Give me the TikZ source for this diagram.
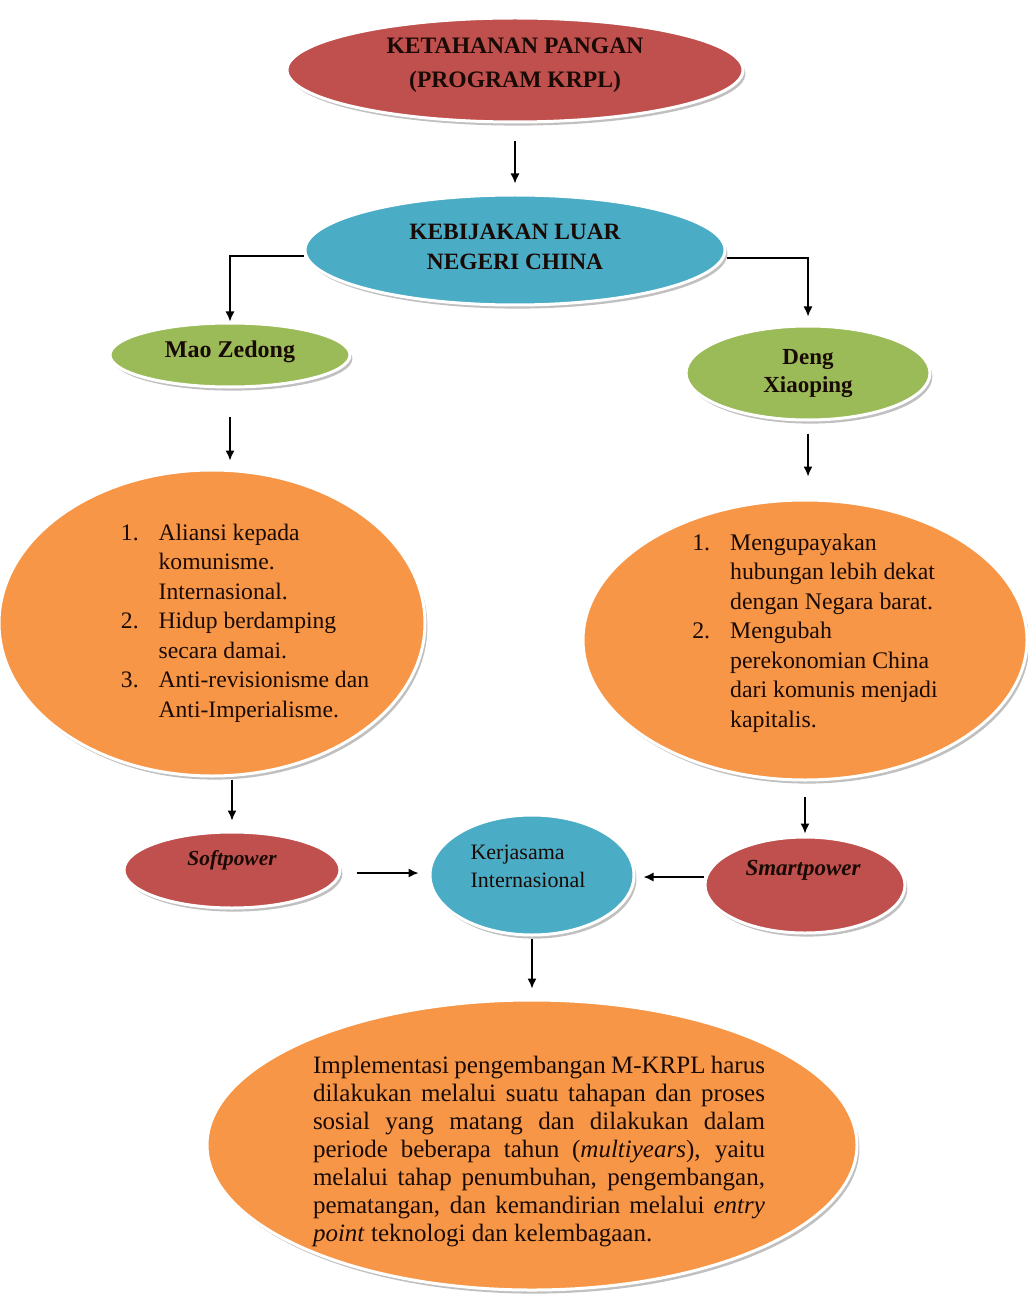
\documentclass[tikz,border=0pt]{standalone}
\usepackage{fontspec}
\setmainfont{Liberation Serif}
\usetikzlibrary{shapes.geometric,shadows,arrows.meta}
\definecolor{cred}{HTML}{C0504D}
\definecolor{cblue}{HTML}{4BACC6}
\definecolor{cgreen}{HTML}{9BBB59}
\definecolor{corange}{HTML}{F79646}
\definecolor{ctext}{HTML}{1A0A05}
\begin{document}
\begin{tikzpicture}[x=0.5pt,y=-0.5pt,
  blob/.style={ellipse, draw=white, line width=1.5pt, inner sep=0pt,
    drop shadow={shadow xshift=1.2pt, shadow yshift=-1.8pt, opacity=0.35, fill=black!70}},
  arr/.style={-{Latex[length=5pt,width=4.5pt]}, line width=0.7pt},
  txt/.style={inner sep=0pt, text=ctext}
]
\useasboundingbox[fill=white] (0,0) rectangle (1027,1299);

% shapes
\node[blob, fill=cred, minimum width=228pt, minimum height=52pt] (ket) at (515,70) {};
\node[blob, fill=cblue, minimum width=210pt, minimum height=55pt] (kb) at (515,250) {};
\node[blob, fill=cgreen, minimum width=120pt, minimum height=32pt] (mao) at (230,355) {};
\node[blob, fill=cgreen, minimum width=122pt, minimum height=47pt] (deng) at (808,373) {};
\node[blob, fill=corange, minimum width=213pt, minimum height=153pt] (lo) at (212,623) {};
\node[blob, fill=corange, minimum width=222pt, minimum height=140pt] (ro) at (805,640) {};
\node[blob, fill=cred, minimum width=108pt, minimum height=38pt] (soft) at (232,870) {};
\node[blob, fill=cblue, minimum width=102pt, minimum height=60pt] (kerj) at (532,875) {};
\node[blob, fill=cred, minimum width=100pt, minimum height=48pt] (smart) at (805,885) {};
\node[blob, fill=corange, minimum width=325pt, minimum height=145pt] (bot) at (532,1145) {};

% texts
\node[txt, align=center, font=\bfseries\fontsize{11.8}{17}\selectfont] (kett) at (515,65)
  {KETAHANAN PANGAN\\(PROGRAM KRPL)};
\node[txt, align=center, font=\bfseries\fontsize{11.7}{15}\selectfont] (kbt) at (515,247)
  {KEBIJAKAN LUAR\\NEGERI CHINA};
\node[txt, font=\bfseries\fontsize{12}{14}\selectfont] (maot) at (230,352) {Mao Zedong};
\node[txt, align=center, font=\bfseries\fontsize{11.5}{14}\selectfont] (dengt) at (808,374)
  {Deng\\Xiaoping};
\node[txt, font=\fontsize{11.8}{14.75}\selectfont] (lot) at (245,623)
  {\begin{tabular}{@{}l@{\hspace{10pt}}l@{}}
  1. & Aliansi kepada\\
     & komunisme.\\
     & Internasional.\\
  2. & Hidup berdamping\\
     & secara damai.\\
  3. & Anti-revisionisme dan\\
     & Anti-Imperialisme.
  \end{tabular}};
\node[txt, font=\fontsize{11.9}{14.75}\selectfont] (rot) at (815,633)
  {\begin{tabular}{@{}l@{\hspace{10pt}}l@{}}
  1. & Mengupayakan\\
     & hubungan lebih dekat\\
     & dengan Negara barat.\\
  2. & Mengubah\\
     & perekonomian China\\
     & dari komunis menjadi\\
     & kapitalis.
  \end{tabular}};
\node[txt, font=\bfseries\itshape\fontsize{10.7}{12}\selectfont] (softt) at (232,860) {Softpower};
\node[txt, align=left, font=\fontsize{11}{14}\selectfont] (kerjt) at (528,866)
  {Kerjasama\\Internasional};
\node[txt, font=\bfseries\itshape\fontsize{11.5}{14}\selectfont] (smartt) at (803,870) {Smartpower};
\node[txt, align=left, font=\fontsize{12.5}{14}\selectfont] (bott) at (539,1152)
  {\makebox[226pt][s]{Implementasi pengembangan M-KRPL harus}\\
   \makebox[226pt][s]{dilakukan melalui suatu tahapan dan proses}\\
   \makebox[226pt][s]{sosial yang matang dan dilakukan dalam}\\
   \makebox[226pt][s]{periode beberapa tahun (\textit{multiyears}), yaitu}\\
   \makebox[226pt][s]{melalui tahap penumbuhan, pengembangan,}\\
   \makebox[226pt][s]{pematangan, dan kemandirian melalui \textit{entry}}\\
   \textit{point} teknologi dan kelembagaan.};

% connectors
\draw[arr, shorten <=9pt, shorten >=5pt] (ket.south) -- (kb.north);
\draw[arr] ([yshift=-3pt]kb.west) -| (mao.north);
\draw[arr, shorten >=4pt] ([yshift=-4pt]kb.east) -| (deng.north);
\draw[arr, shorten <=14pt, shorten >=4pt] (mao.south) -- (mao.south |- lo.north);
\draw[arr, shorten <=6pt, shorten >=11pt] (deng.south) -- (deng.south |- ro.north);
\draw[arr, shorten <=1pt, shorten >=5pt] (soft.north |- lo.south) -- (soft.north);
\draw[arr, shorten <=7.5pt, shorten >=1pt] (smart.north |- ro.south) -- (smart.north);
\draw[arr, shorten <=7.5pt, shorten >=5pt] ([yshift=-1.5pt]soft.east) -- ([yshift=-1.5pt]soft.east -| kerj.west);
\draw[arr, shorten >=4pt] ([yshift=4pt]smart.west) -- ([yshift=4pt]smart.west -| kerj.east);
\draw[arr, shorten <=1pt, shorten >=5pt] (kerj.south) -- (kerj.south |- bot.north);
\end{tikzpicture}
\end{document}
